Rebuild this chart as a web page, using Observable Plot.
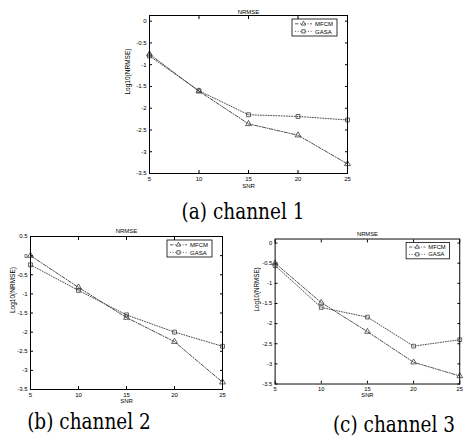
<!DOCTYPE html>
<html><head><meta charset="utf-8">
<script src="https://cdn.jsdelivr.net/npm/d3@7"></script>
<script src="https://cdn.jsdelivr.net/npm/@observablehq/plot@0.6"></script>
<style>
body{margin:0;background:#fff;width:467px;height:441px;overflow:hidden;position:relative;}
.panel{position:absolute;}
.cap{position:absolute;font-size:22px;color:#000;white-space:nowrap;transform:translateX(-50%) scaleX(0.84);transform-origin:50% 50%;line-height:1;}
</style></head><body>
<script>
// ---- data ----
const snr = [5, 10, 15, 20, 25];
const seriesNames = ["MFCM", "GASA"];
const ch1MFCM = [-0.76, -1.61, -2.36, -2.62, -3.28];
const ch1GASA = [-0.80, -1.60, -2.15, -2.19, -2.27];
const ch2MFCM = [0.0, -0.83, -1.62, -2.25, -3.31];
const ch2GASA = [-0.24, -0.91, -1.55, -2.0, -2.37];
const ch3MFCM = [-0.50, -1.48, -2.20, -2.96, -3.30];
const ch3GASA = [-0.56, -1.60, -1.84, -2.56, -2.40];
const yTicksA = [0, -0.5, -1, -1.5, -2, -2.5, -3, -3.5];
const yTicksB = [0.5, 0, -0.5, -1, -1.5, -2, -2.5, -3, -3.5];
const titleText = "NRMSE";
const xLabel = "SNR";
const yLabel = "Log10(NRMSE)";
const captions = ["(a) channel 1", "(b) channel 2", "(c) channel 3"];

// ---- layout ----
const panels = [
  {mf: ch1MFCM, ga: ch1GASA, ticks: yTicksA, domain: [-3.5, 0.13], left: 110, top: 0, width: 250, height: 200,
   m: [15, 13, 27, 39], titleDy: -6, xlDy: 14, ylDx: -22, cap: captions[0], capX: 242.5, capY: 201},
  {mf: ch2MFCM, ga: ch2GASA, ticks: yTicksB, domain: [-3.5, 0.5], left: 0, top: 225, width: 240, height: 200,
   m: [11, 18, 36, 30], titleDy: -7.5, xlDy: 13, ylDx: -18, cap: captions[1], capX: 89, capY: 411},
  {mf: ch3MFCM, ga: ch3GASA, ticks: yTicksA, domain: [-3.5, 0.1], left: 235, top: 225, width: 240, height: 200,
   m: [14, 8, 36, 41], titleDy: -7.5, xlDy: 13, ylDx: -19, cap: captions[2], capX: 394, capY: 414}
];

const fmt = d => String(d);
const lineColor = "#3a3a3a";
const mfDash = "3.5,1.5,1,1.5";
const gaDash = "1,1.6";
const sansFont = "'Liberation Sans', Arial, Roboto, sans-serif";

panels.forEach(p => {
  const rows = [];
  snr.forEach((s, i) => {
    rows.push({snr: s, value: p.mf[i], series: seriesNames[0]});
    rows.push({snr: s, value: p.ga[i], series: seriesNames[1]});
  });
  const mfRows = rows.filter(r => r.series === "MFCM");
  const gaRows = rows.filter(r => r.series === "GASA");
  const [mt, mr, mb, ml] = p.m;
  const chart = Plot.plot({
    width: p.width, height: p.height,
    marginTop: mt, marginRight: mr, marginBottom: mb, marginLeft: ml,
    style: {fontFamily: sansFont, fontSize: "6px", background: "transparent", color: "#000"},
    x: {domain: [5, 25]},
    y: {domain: p.domain},
    marks: [
      Plot.axisX({ticks: snr, tickSize: 0, tickPadding: 3, tickFormat: fmt, label: null}),
      Plot.axisY({ticks: p.ticks, tickSize: 0, tickPadding: 3, tickFormat: fmt, label: null}),
      Plot.axisX({anchor: "bottom", ticks: snr, tickSize: -3, text: null, label: null}),
      Plot.axisX({anchor: "top", ticks: snr, tickSize: -3, text: null, label: null}),
      Plot.axisY({anchor: "left", ticks: p.ticks, tickSize: -3, text: null, label: null}),
      Plot.axisY({anchor: "right", ticks: p.ticks, tickSize: -3, text: null, label: null}),
      Plot.line(mfRows, {x: "snr", y: "value", stroke: lineColor, strokeWidth: 0.9, strokeDasharray: mfDash}),
      Plot.line(gaRows, {x: "snr", y: "value", stroke: lineColor, strokeWidth: 0.9, strokeDasharray: gaDash}),
      Plot.dot(mfRows, {x: "snr", y: "value", symbol: "triangle", r: 2.2, stroke: lineColor, strokeWidth: 0.8, fill: "none"}),
      Plot.dot(gaRows, {x: "snr", y: "value", symbol: "square", r: 2.2, stroke: lineColor, strokeWidth: 0.8, fill: "none"}),
      Plot.frame({stroke: "#000", strokeWidth: 1}),
      Plot.text([titleText], {frameAnchor: "top", dy: p.titleDy, text: d => d, fontSize: 6, fill: "#000"}),
      Plot.text([xLabel], {frameAnchor: "bottom", dy: p.xlDy, text: d => d, fontSize: 6, fill: "#000"}),
      Plot.text([yLabel], {frameAnchor: "left", dx: p.ylDx, rotate: -90, text: d => d, fontSize: 6.5, fill: "#000"})
    ]
  });
  const div = document.createElement("div");
  div.className = "panel";
  div.style.left = p.left + "px";
  div.style.top = p.top + "px";
  div.appendChild(chart);
  document.body.appendChild(div);

  // legend
  const svg = d3.select(chart);
  const fr = p.width - mr, ft = mt;
  const w = 45, h = 17;
  const bx = fr - 10 - w, by = ft + 4;
  const g = svg.append("g").attr("text-anchor", "start");
  g.append("rect").attr("x", bx).attr("y", by).attr("width", w).attr("height", h)
    .attr("fill", "#fff").attr("stroke", "#000").attr("stroke-width", 0.8);
  seriesNames.forEach((name, i) => {
    const yy = by + 4.8 + i * 7.6;
    g.append("line").attr("x1", bx + 3).attr("x2", bx + 20).attr("y1", yy).attr("y2", yy)
      .attr("stroke", lineColor).attr("stroke-width", 0.8).attr("stroke-dasharray", i === 0 ? mfDash : gaDash);
    g.append("path").attr("d", d3.symbol(i === 0 ? d3.symbolTriangle2 : d3.symbolSquare2, 14)())
      .attr("transform", `translate(${bx + 11.5},${yy})`)
      .attr("fill", "#fff").attr("stroke", lineColor).attr("stroke-width", 0.8);
    g.append("text").attr("x", bx + 23).attr("y", yy).attr("dy", "0.35em")
      .attr("text-anchor", "start").attr("fill", "#000")
      .attr("font-size", 6).attr("font-family", sansFont).text(name);
  });

  const cap = document.createElement("div");
  cap.className = "cap";
  cap.style.fontFamily = "'DejaVu Serif', 'Liberation Serif', serif";
  cap.style.left = p.capX + "px";
  cap.style.top = p.capY + "px";
  cap.textContent = p.cap;
  document.body.appendChild(cap);
});
</script>
</body></html>
